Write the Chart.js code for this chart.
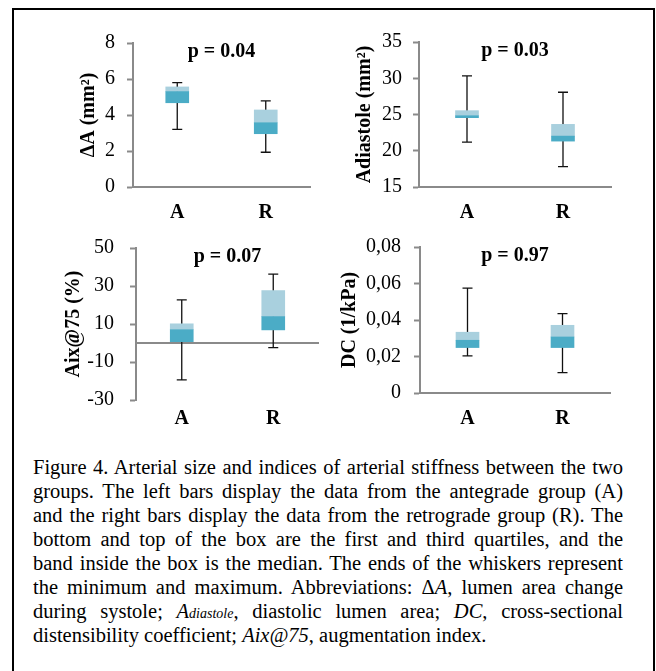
<!DOCTYPE html>
<html>
<head>
<meta charset="utf-8">
<script src="https://cdn.jsdelivr.net/npm/chart.js@4.4.1/dist/chart.umd.min.js"></script>
<style>
  html, body { margin: 0; padding: 0; background: #fff; width: 656px; height: 671px; overflow: hidden; }
  #frame { position: absolute; left: 12px; top: 8px; width: 643px; height: 720px; border: 2px solid #000; box-sizing: border-box; }
  #charts canvas { position: absolute; }
  #caption { position: absolute; left: 33px; top: 455px; width: 590px;
    font-family: "Liberation Serif", "Times New Roman", serif; font-size: 20.5px; line-height: 24px; color: #000; }
  #caption div { white-space: nowrap; text-align: justify; text-align-last: justify; height: 24px; }
  #caption div.last { text-align-last: left; }
  .sub { font-size: 14px; line-height: 0; }
</style>
</head>
<body>
<div id="frame"></div>
<div id="charts">
  <canvas id="c1"></canvas>
  <canvas id="c2"></canvas>
  <canvas id="c3"></canvas>
  <canvas id="c4"></canvas>
</div>
<div id="caption">
  <div>Figure 4. Arterial size and indices of arterial stiffness between the two</div>
  <div>groups. The left bars display the data from the antegrade group (A)</div>
  <div>and the right bars display the data from the retrograde group (R). The</div>
  <div>bottom and top of the box are the first and third quartiles, and the</div>
  <div>band inside the box is the median. The ends of the whiskers represent</div>
  <div>the minimum and maximum. Abbreviations: Δ<i>A</i>, lumen area change</div>
  <div>during systole; <i>A<span class="sub">diastole</span></i>, diastolic lumen area; <i>DC</i>, cross-sectional</div>
  <div class="last">distensibility coefficient; <i>Aix@75</i>, augmentation index.</div>
</div>
<script>
// groups
const groups = ['A', 'R'];

// ΔA (mm²)
const dAMin = [3.2, 1.93];
const dAQ1 = [4.68, 2.96];
const dAMed = [5.3, 3.57];
const dAQ3 = [5.56, 4.28];
const dAMax = [5.8, 4.78];

// Adiastole (mm²)
const adMin = [21.2, 17.8];
const adQ1 = [24.56, 21.33];
const adMed = [24.83, 22.02];
const adQ3 = [25.53, 23.64];
const adMax = [30.33, 28.07];

// Aix@75 (%)
const aixMin = [-19.4, -2.4];
const aixQ1 = [0.7, 6.9];
const aixMed = [7.0, 13.9];
const aixQ3 = [10.1, 27.6];
const aixMax = [22.7, 36.3];

// DC (1/kPa)
const dcMin = [0.0203, 0.0112];
const dcQ1 = [0.0249, 0.0249];
const dcMed = [0.0289, 0.0307];
const dcQ3 = [0.0333, 0.0371];
const dcMax = [0.0575, 0.0435];

const GRAY = '#8a8a8a';
const DARK = '#4bacc6';
const LIGHT = '#a9d0de';
const SERIF = '"Liberation Serif", "Times New Roman", serif';
const PAD_TOP = 34;

// whiskers (and the zero line where asked) drawn behind the boxes
const whiskers = {
  id: 'whiskers',
  beforeDatasetsDraw(chart, args, opts) {
    const {ctx, chartArea} = chart;
    const xs = chart.scales.x, ys = chart.scales.y;
    ctx.save();
    if (opts.zeroLine) {
      const y0 = ys.getPixelForValue(0);
      ctx.strokeStyle = GRAY;
      ctx.lineWidth = 2;
      ctx.beginPath();
      ctx.moveTo(chartArea.left, y0); ctx.lineTo(chartArea.right, y0);
      ctx.stroke();
    }
    ctx.strokeStyle = '#111';
    ctx.lineWidth = 1.3;
    opts.lo.forEach((lo, i) => {
      const px = xs.getPixelForValue(i);
      const y1 = ys.getPixelForValue(lo);
      const y2 = ys.getPixelForValue(opts.hi[i]);
      ctx.beginPath();
      ctx.moveTo(px, y1); ctx.lineTo(px, y2);
      ctx.moveTo(px - 5, y1); ctx.lineTo(px + 5, y1);
      ctx.moveTo(px - 5, y2); ctx.lineTo(px + 5, y2);
      ctx.stroke();
    });
    ctx.restore();
  }
};

// p-value text at the top of the plot area
const pText = {
  id: 'pText',
  afterDraw(chart, args, opts) {
    const {ctx, chartArea} = chart;
    ctx.save();
    ctx.font = 'bold 20px ' + SERIF;
    ctx.fillStyle = '#000';
    ctx.textAlign = 'center';
    ctx.textBaseline = 'middle';
    ctx.fillText(opts.text, (chartArea.left + chartArea.right) / 2, chartArea.top + 9);
    ctx.restore();
  }
};

function makeChart(id, p) {
  const cv = document.getElementById(id);
  const left = p.titleX - 12;
  const top = p.t - PAD_TOP;
  cv.width = Math.round(p.r + 10 - left);
  cv.height = Math.round(p.b - top + 40);
  cv.style.left = left + 'px';
  cv.style.top = top + 'px';
  const yW = p.l - left;

  new Chart(cv, {
    type: 'bar',
    data: {
      labels: groups,
      datasets: [
        { data: p.q1.map((v, i) => [v, p.med[i]]), backgroundColor: DARK, grouped: false, barThickness: 23 },
        { data: p.med.map((v, i) => [v, p.q3[i]]), backgroundColor: LIGHT, grouped: false, barThickness: 23 }
      ]
    },
    options: {
      responsive: false,
      animation: false,
      layout: { padding: { top: PAD_TOP, right: 10, bottom: 0, left: 0 } },
      plugins: {
        legend: { display: false },
        tooltip: { enabled: false },
        whiskers: { lo: p.min, hi: p.max, zeroLine: !!p.zeroLine },
        pText: { text: p.pval }
      },
      scales: {
        x: {
          grid: { display: false, drawTicks: false },
          border: { display: !p.zeroLine, color: GRAY, width: 2 },
          ticks: { color: '#000', font: { family: SERIF, size: 20, weight: 'bold' }, padding: p.zeroLine ? 7 : 14 },
          afterFit(s) { s.height = 40; }
        },
        y: {
          min: p.min0, max: p.max0,
          border: { display: true, color: GRAY, width: 2 },
          grid: {
            drawOnChartArea: false,
            tickColor: GRAY, tickLength: 6, tickWidth: 2
          },
          ticks: {
            stepSize: p.step,
            color: '#000',
            font: { family: SERIF, size: 20 },
            padding: p.tickPad,
            callback: p.fmt || (v => v)
          },
          title: {
            display: true, text: p.title, color: '#000',
            font: { family: SERIF, size: 20, weight: 'bold' },
            padding: { top: 0, bottom: 0 }
          },
          afterFit(s) { s.width = yW; }
        }
      }
    },
    plugins: [whiskers, pText]
  });
}

makeChart('c1', { l: 133, r: 310, t: 43, b: 187, titleX: 89, tickPad: 12, min0: 0, max0: 8, step: 2,
  title: 'ΔA (mm²)', pval: 'p = 0.04', min: dAMin, q1: dAQ1, med: dAMed, q3: dAQ3, max: dAMax });
makeChart('c2', { l: 419, r: 611, t: 42, b: 187, titleX: 365, tickPad: 11, min0: 15, max0: 35, step: 5,
  title: 'Adiastole (mm²)', pval: 'p = 0.03', min: adMin, q1: adQ1, med: adMed, q3: adQ3, max: adMax });
makeChart('c3', { l: 136, r: 319, t: 248, b: 400, titleX: 74, tickPad: 16, min0: -30, max0: 50, step: 20, zeroLine: true,
  title: 'Aix@75 (%)', pval: 'p = 0.07', min: aixMin, q1: aixQ1, med: aixMed, q3: aixQ3, max: aixMax });
makeChart('c4', { l: 420, r: 610, t: 247, b: 393, titleX: 350, tickPad: 13, min0: 0, max0: 0.08, step: 0.02,
  title: 'DC (1/kPa)', pval: 'p = 0.97', min: dcMin, q1: dcQ1, med: dcMed, q3: dcQ3, max: dcMax,
  fmt: v => v === 0 ? '0' : v.toFixed(2).replace('.', ',') });
</script>
</body>
</html>
